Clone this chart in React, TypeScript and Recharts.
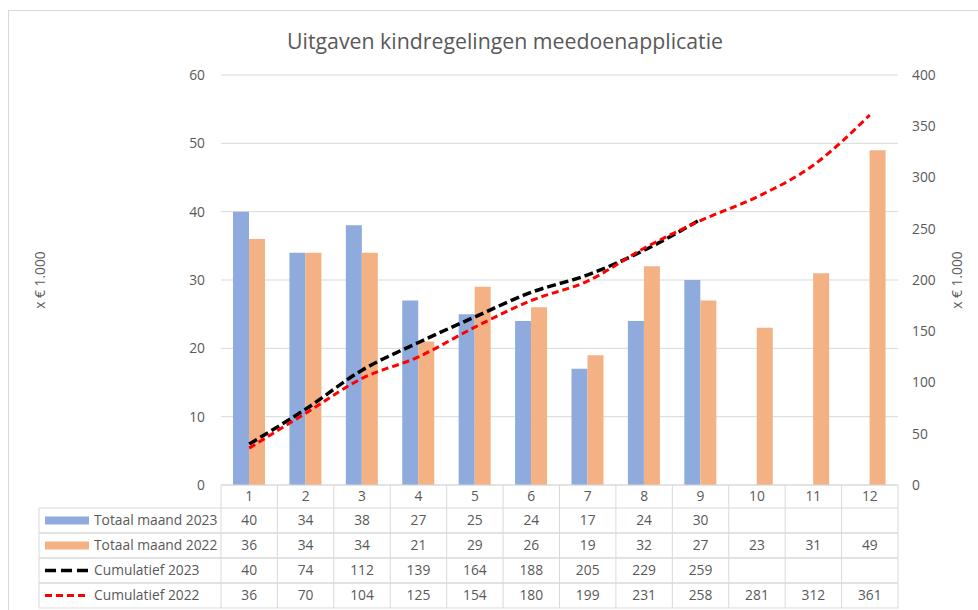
import React from 'react';
import { ComposedChart, Bar, Line, XAxis, YAxis, CartesianGrid, Label } from 'recharts';

const months = ['1', '2', '3', '4', '5', '6', '7', '8', '9', '10', '11', '12'];
const totaal2023: (number | null)[] = [40, 34, 38, 27, 25, 24, 17, 24, 30, null, null, null];
const totaal2022: (number | null)[] = [36, 34, 34, 21, 29, 26, 19, 32, 27, 23, 31, 49];
const cumulatief2023: (number | null)[] = [40, 74, 112, 139, 164, 188, 205, 229, 259, null, null, null];
const cumulatief2022: (number | null)[] = [36, 70, 104, 125, 154, 180, 199, 231, 258, 281, 312, 361];
const leftTicks = [0, 10, 20, 30, 40, 50, 60];
const rightTicks = [0, 50, 100, 150, 200, 250, 300, 350, 400];
const seriesNames = ['Totaal maand 2023', 'Totaal maand 2022', 'Cumulatief 2023', 'Cumulatief 2022'];
const title = 'Uitgaven kindregelingen meedoenapplicatie';
const axisTitle = 'x € 1.000';

const data = months.map((m, i) => ({
  month: m,
  t2023: totaal2023[i],
  t2022: totaal2022[i],
  c2023: cumulatief2023[i],
  c2022: cumulatief2022[i],
}));
const tableRows = [totaal2023, totaal2022, cumulatief2023, cumulatief2022];

// layout
const W = 978;
const H = 610;
const PLOT_LEFT = 221;
const PLOT_RIGHT = 898;
const PLOT_TOP = 75;
const PLOT_BOTTOM = 485;
const HEADER_BOTTOM = 508;
const ROW_H = 25;
const TABLE_LEFT = 39;
const FONT = '"Open Sans", Lato, sans-serif';
const FS = 13.8;
const TEXT = '#595959';
const GRID = '#d9d9d9';
const BLUE = '#8faadc';
const ORANGE = '#f4b183';

const swatches = [
  { kind: 'bar', color: BLUE },
  { kind: 'bar', color: ORANGE },
  { kind: 'line', color: '#000000', dash: '11 5', width: 3.5 },
  { kind: 'line', color: '#ff0000', dash: '7 4', width: 3 },
];

const TableTick = (props: any) => {
  const { x, payload, index } = props;
  const half = (PLOT_RIGHT - PLOT_LEFT) / 24;
  const left = x - half;
  const right = x + half;
  const bottom = HEADER_BOTTOM + ROW_H * tableRows.length;
  const els: React.ReactNode[] = [];
  els.push(<line key="vr" x1={right} x2={right} y1={PLOT_BOTTOM} y2={bottom} stroke={GRID} />);
  if (index === 0) {
    els.push(<line key="vl" x1={left} x2={left} y1={PLOT_BOTTOM} y2={bottom} stroke={GRID} />);
    els.push(<line key="tl" x1={TABLE_LEFT} x2={TABLE_LEFT} y1={HEADER_BOTTOM} y2={bottom} stroke={GRID} />);
    tableRows.forEach((_, r) => {
      const yTop = HEADER_BOTTOM + r * ROW_H;
      const yc = yTop + ROW_H / 2;
      const sw = swatches[r];
      els.push(<line key={`lh${r}`} x1={TABLE_LEFT} x2={left} y1={yTop + ROW_H} y2={yTop + ROW_H} stroke={GRID} />);
      els.push(<line key={`lt${r}`} x1={TABLE_LEFT} x2={left} y1={yTop} y2={yTop} stroke={GRID} />);
      if (sw.kind === 'bar') {
        els.push(<rect key={`sw${r}`} x={45} y={yc - 4} width={44} height={8} fill={sw.color} />);
      } else {
        els.push(
          <line key={`sw${r}`} x1={45} x2={89} y1={yc} y2={yc} stroke={sw.color} strokeWidth={sw.width} strokeDasharray={sw.dash} />
        );
      }
      els.push(
        <text key={`lb${r}`} x={94} y={yc} dy="0.35em" fill={TEXT} fontSize={FS} fontFamily={FONT}>
          {seriesNames[r]}
        </text>
      );
    });
  }
  els.push(
    <text key="hd" x={x} y={(PLOT_BOTTOM + HEADER_BOTTOM) / 2} dy="0.35em" textAnchor="middle" fill={TEXT} fontSize={FS} fontFamily={FONT}>
      {payload.value}
    </text>
  );
  tableRows.forEach((row, r) => {
    const yTop = HEADER_BOTTOM + r * ROW_H;
    els.push(<line key={`h${r}`} x1={left} x2={right} y1={yTop} y2={yTop} stroke={GRID} />);
    els.push(<line key={`hb${r}`} x1={left} x2={right} y1={yTop + ROW_H} y2={yTop + ROW_H} stroke={GRID} />);
    const v = row[index];
    if (v !== null && v !== undefined) {
      els.push(
        <text key={`v${r}`} x={x} y={yTop + ROW_H / 2} dy="0.35em" textAnchor="middle" fill={TEXT} fontSize={FS} fontFamily={FONT}>
          {v}
        </text>
      );
    }
  });
  return <g>{els}</g>;
};

export default function App() {
  return (
    <div style={{ position: 'relative', width: W, height: H, background: '#fff', fontFamily: FONT }}>
      <style>{'body{margin:0;overflow:hidden;}'}</style>
      <div
        style={{
          position: 'absolute',
          left: 8,
          top: 10,
          right: 0,
          bottom: 0,
          borderTop: `1px solid ${GRID}`,
          borderLeft: `1px solid ${GRID}`,
        }}
      />
      <div
        style={{
          position: 'absolute',
          left: 0,
          width: 1010,
          top: 26,
          textAlign: 'center',
          fontSize: 21.3,
          lineHeight: '29px',
          color: TEXT,
          fontFamily: FONT,
        }}
      >
        {title}
      </div>
      <div style={{ position: 'absolute', left: 0, top: 0 }}>
        <ComposedChart
          width={W}
          height={H}
          data={data}
          margin={{ top: PLOT_TOP, right: 0, bottom: 0, left: 0 }}
          barGap={0}
        >
          <CartesianGrid yAxisId="left" vertical={false} stroke={GRID} />
          <XAxis
            dataKey="month"
            height={H - PLOT_BOTTOM}
            interval={0}
            axisLine={{ stroke: GRID }}
            tickLine={false}
            tick={<TableTick />}
          />
          <YAxis
            yAxisId="left"
            orientation="left"
            width={PLOT_LEFT}
            domain={[0, 60]}
            ticks={leftTicks}
            axisLine={false}
            tickLine={false}
            tickMargin={10}
            tick={{ fill: TEXT, fontSize: FS, fontFamily: FONT }}
          >
            <Label
              value={axisTitle}
              angle={-90}
              position="insideLeft"
              offset={40}
              style={{ textAnchor: 'middle' }}
              fill={TEXT}
              fontSize={FS}
              fontFamily={FONT}
            />
          </YAxis>
          <YAxis
            yAxisId="right"
            orientation="right"
            width={W - PLOT_RIGHT}
            domain={[0, 400]}
            ticks={rightTicks}
            axisLine={false}
            tickLine={false}
            tickMargin={8}
            tick={{ fill: TEXT, fontSize: FS, fontFamily: FONT }}
          >
            <Label
              value={axisTitle}
              angle={-90}
              position="insideRight"
              offset={21}
              style={{ textAnchor: 'middle' }}
              fill={TEXT}
              fontSize={FS}
              fontFamily={FONT}
            />
          </YAxis>
          <Bar yAxisId="left" dataKey="t2023" name={seriesNames[0]} fill={BLUE} barSize={16} isAnimationActive={false} />
          <Bar yAxisId="left" dataKey="t2022" name={seriesNames[1]} fill={ORANGE} barSize={16} isAnimationActive={false} />
          <Line
            yAxisId="right"
            dataKey="c2023"
            name={seriesNames[2]}
            type="monotone"
            stroke="#000000"
            strokeWidth={3.5}
            strokeDasharray="9 4"
            dot={false}
            activeDot={false}
            isAnimationActive={false}
          />
          <Line
            yAxisId="right"
            dataKey="c2022"
            name={seriesNames[3]}
            type="monotone"
            stroke="#ff0000"
            strokeWidth={3}
            strokeDasharray="7 4"
            dot={false}
            activeDot={false}
            isAnimationActive={false}
          />
        </ComposedChart>
      </div>
    </div>
  );
}
